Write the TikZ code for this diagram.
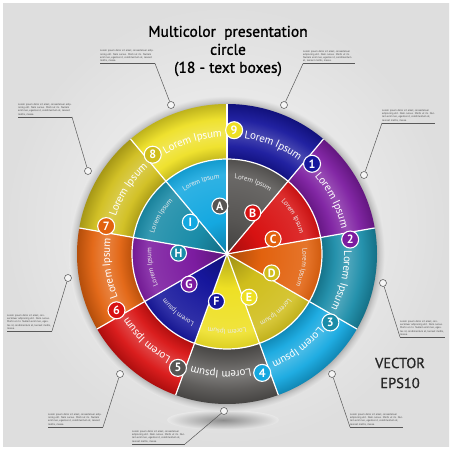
\documentclass[tikz,border=0pt]{standalone}
\usepackage{fontspec}
\setmainfont{PT Sans}
\usetikzlibrary{decorations.text,calc}
\definecolor{bgc}{HTML}{E8E8E8}
\definecolor{cnavy}{HTML}{16169C}
\definecolor{cpurple}{HTML}{7C1CA0}
\definecolor{cteal}{HTML}{1A8CA8}
\definecolor{clblue}{HTML}{14A8E0}
\definecolor{cgray}{HTML}{575553}
\definecolor{cred}{HTML}{D81212}
\definecolor{corange}{HTML}{E2620E}
\definecolor{colive}{HTML}{D0BE1C}
\definecolor{cyellow}{HTML}{EEE024}
\colorlet{segc}{red}
\pgfdeclareradialshading[segc]{outershade}{\pgfpoint{0bp}{0bp}}{color(0bp)=(segc!70!black); color(15.8bp)=(segc!82!black); color(18bp)=(segc!95!white); color(20.3bp)=(segc!78!white); color(22.5bp)=(segc!95!white); color(25bp)=(segc!80!black); color(50bp)=(segc!80!black)}
\pgfdeclareradialshading[segc]{innershade}{\pgfpoint{0bp}{0bp}}{color(0bp)=(segc!75!black); color(9bp)=(segc); color(21bp)=(segc!88!white); color(25bp)=(segc!92!black); color(50bp)=(segc!92!black)}
\pgfdeclareradialshading{rimshade}{\pgfpoint{0bp}{0bp}}{color(0bp)=(black!35); color(23.6bp)=(black!32); color(24.2bp)=(black!20); color(25bp)=(bgc); color(50bp)=(bgc)}
\begin{document}
\begin{tikzpicture}[x=1pt,y=1pt,
  wl/.style={white, line width=1.2pt},
  knobo/.style={circle, draw=white, line width=1.1pt, minimum size=17pt, inner sep=0pt, text=white, font=\fontsize{12}{12}\selectfont\bfseries},
  knobi/.style={knobo, minimum size=16pt},
  ctext/.style={text width=#1, align=left, inner sep=0pt, anchor=south west, text=black!75, font=\fontsize{2.6}{3.3}\selectfont},
  cdot/.style={circle, draw=black!60, line width=0.6pt, fill=white!96!black, minimum size=7pt, inner sep=0pt},
  cline/.style={draw=black!65, line width=0.5pt},
  titletext/.style={align=center, inner sep=0pt, font=\fontsize{15.5}{18}\selectfont\addfontfeature{FakeBold=1.2}, text=black},
  vectext/.style={align=center, inner sep=0pt, font=\fontsize{14.5}{20}\selectfont\addfontfeature{FakeBold=0.8}, text=black!85}
]
\useasboundingbox (0,0) rectangle (450,450);
\fill[white] (0,0) rectangle (450,450);
\shade[inner color=white!97!black, outer color=white!87!black] (3,3) rectangle (449,446.5);
\coordinate (C) at (227,196);
% bottom shadow
\shade[inner color=black!45, outer color=bgc] (223,30) ellipse [x radius=56, y radius=10];
% rim shadow
\shade[shading=rimshade] (C) circle (158);
% outer ring
\foreach \lo/\col in {50/cnavy, 10/cpurple, -30/cteal, -70/clblue, -110/cgray, -150/cred, -190/corange, -230/colive, -270/cyellow} {
  \colorlet{segc}{\col}
  \begin{scope}
    \clip (C) -- ($(C)+(\lo:170)$) arc[start angle=\lo, end angle=\lo+40, radius=170] -- cycle;
    \shade[shading=outershade] (C) circle (150);
  \end{scope}
}
% inner pie
\foreach \lo/\col in {90/clblue, 50/cgray, 10/cred, -30/corange, -70/colive, -110/cyellow, -150/cnavy, 170/cpurple, 130/cteal} {
  \colorlet{segc}{\col}
  \begin{scope}
    \clip (C) -- ($(C)+(\lo:96)$) arc[start angle=\lo, end angle=\lo+40, radius=96] -- cycle;
    \shade[shading=innershade] (C) circle (95);
  \end{scope}
}
% white boundaries
\foreach \a in {90,50,10,-30,-70,-110,-150,170,130} {
  \draw[wl] ($(C)+(\a:95)$) -- ($(C)+(\a:150)$);
  \draw[wl] (C) -- ($(C)+(\a:95)$);
}
\draw[wl] (C) circle (95);
% outer texts
\foreach \m in {67,27,-13,-53,-93,-133,-173,147,107} {
  \path[decorate, decoration={text along path, text={|\fontsize{11}{11}\selectfont|Lorem Ipsum}, text color=white, text align=center, raise=-3.8pt}]
    ($(C)+(\m+25:121)$) arc[start angle=\m+25, end angle=\m-25, radius=121];
}
% inner texts
\foreach \m in {110,70,30,-10,-50,-90,-130,190,150} {
  \path[decorate, decoration={text along path, text={|\fontsize{7}{7}\selectfont|Lorem Ipsum}, text color=white!92!black, text align=center, raise=-2.4pt}]
    ($(C)+(\m+30:78)$) arc[start angle=\m+30, end angle=\m-30, radius=78];
}
% outer knobs
\foreach \n/\a/\kc in {9/86.7/cyellow, 1/46.7/cnavy, 2/6.7/cpurple, 3/-33.5/cteal, 4/-73.5/clblue, 5/-113.3/cgray, 6/-153/cred, 7/167/corange, 8/126.8/colive} {
  \node[knobo, fill=\kc] (n\n) at ($(C)+(\a:124)$) {\n};
}
% inner knobs
\foreach \l/\a/\kc in {A/98.5/cgray, B/58/cred, C/18/corange, D/-23/colive, E/-63/cyellow, F/-102.5/cnavy, G/-141.5/cpurple, H/179/cteal, I/139/clblue} {
  \node[knobi, fill=\kc] (k\l) at ($(C)+(\a:48.5)$) {\l};
}
% callouts
\newcommand{\lorem}{Lorem ipsum dolor sit amet, consectetuer adipiscing elit. Nam cursus. Morbi ut mi. Nullam enim leo, egestas id, condimentum at, laoreet mattis, massa.}
\foreach \i/\xl/\xr/\uy/\dx/\dy/\side/\w in {
  1/100/155/386.5/171/345/r/55pt,
  2/303/355/386.3/284/345/l/52pt,
  3/382/435/327/364/275/l/53pt,
  4/18/72/333/88/279/r/54pt,
  5/7/52/119/68/172/r/45pt,
  6/48/103/23/120/76/r/55pt,
  7/132/185/6/224/39/r/53pt,
  8/350/403/23/332/76/l/53pt,
  9/400/445/113/383/167/l/45pt} {
  \coordinate (u\i l) at (\xl,\uy);
  \coordinate (u\i r) at (\xr,\uy);
  \node[ctext=\w] (t\i) at (\xl,\uy+1.2) {\lorem};
  \node[cdot] (d\i) at (\dx,\dy) {};
  \draw[cline] (u\i l) -- (u\i r);
  \draw[cline] (u\i\side) -- (d\i);
}
% title
\node[titletext] (title) at (228,399) {Multicolor\ \ presentation\\circle\\(18 - text boxes)};
\node[vectext] (vec) at (400,77) {VECTOR\\EPS10};
\end{tikzpicture}
\end{document}
